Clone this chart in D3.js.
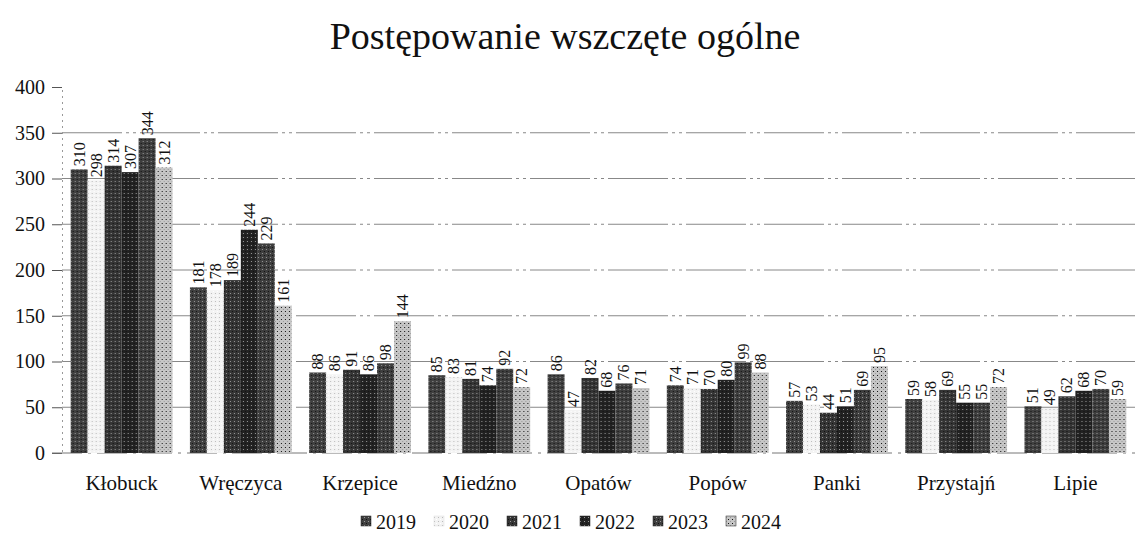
<!DOCTYPE html>
<html><head><meta charset="utf-8">
<script src="https://cdn.jsdelivr.net/npm/d3@7"></script>
<style>body{margin:0;background:#fff}svg{display:block}text{font-family:"Liberation Serif","Times New Roman",serif;fill:#111}</style>
</head><body><div id="chart"></div>
<script>
const categories = ["Kłobuck","Wręczyca","Krzepice","Miedźno","Opatów","Popów","Panki","Przystajń","Lipie"];
const years = ["2019","2020","2021","2022","2023","2024"];
const v2019 = [310,181,88,85,86,74,57,59,51];
const v2020 = [298,178,86,83,47,71,53,58,49];
const v2021 = [314,189,91,81,82,70,44,69,62];
const v2022 = [307,244,86,74,68,80,51,55,68];
const v2023 = [344,229,98,92,76,99,69,55,70];
const v2024 = [312,161,144,72,71,88,95,72,59];
const yTicks = [0,50,100,150,200,250,300,350,400];
const title = "Postępowanie wszczęte ogólne";

const series = [v2019,v2020,v2021,v2022,v2023,v2024];
const colors = ["#404040","#f3f3f3","#353535","#222222","#3e3e3e","#c6c6c6"];

const W=1135,H=542;
const svg=d3.select("#chart").append("svg").attr("width",W).attr("height",H);

const defs=svg.append("defs");
colors.forEach((c,i)=>{
  const p=defs.append("pattern").attr("id","pat"+i).attr("patternUnits","userSpaceOnUse").attr("width",4).attr("height",4);
  p.append("rect").attr("width",4).attr("height",4).attr("fill",c);
  p.append("rect").attr("x",(i%2)).attr("y",1).attr("width",1).attr("height",1).attr("fill",i===1?"#bbb":"#999");
  p.append("rect").attr("x",2+(i%2)).attr("y",3).attr("width",1).attr("height",1).attr("fill",i===1?"#fff":"#111");
});

const x0=d3.scaleBand().domain(categories).range([62,1135]).paddingInner(0.146).paddingOuter(0.073);
const x1=d3.scaleBand().domain(years).range([0,x0.bandwidth()]).padding(0);
const y=d3.scaleLinear().domain([0,400]).range([453,87]);

// gridlines
svg.append("g").selectAll("line").data(yTicks.filter(d=>d>0 && d<400)).join("line")
  .attr("x1",62).attr("x2",W).attr("y1",d=>y(d)).attr("y2",d=>y(d))
  .attr("stroke","#888").attr("stroke-width",1).attr("stroke-dasharray","60,4,3,4,3,4");

// y axis
const yAxis=d3.axisLeft(y).tickValues(yTicks).tickSize(10).tickPadding(7);
const ga=svg.append("g").attr("transform","translate(62,0)").call(yAxis);
ga.select(".domain").attr("stroke","#999").attr("stroke-dasharray","2,4");
ga.selectAll(".tick line").attr("stroke","#555");
ga.selectAll(".tick text").attr("font-size",20).attr("font-family","Liberation Serif").attr("fill","#111");

// baseline
svg.append("line").attr("x1",52).attr("x2",W).attr("y1",y(0)).attr("y2",y(0)).attr("stroke","#777").attr("stroke-dasharray","30,6,3,6");

// bars
const groups=svg.append("g").selectAll("g").data(categories).join("g")
  .attr("transform",d=>`translate(${x0(d)},0)`);
const rows=(c,ci)=>years.map((yr,si)=>({yr,si,v:series[si][ci]}));
groups.selectAll("rect").data(rows).join("rect")
  .attr("x",d=>x1(d.yr)).attr("width",x1.bandwidth())
  .attr("y",d=>y(d.v)).attr("height",d=>y(0)-y(d.v))
  .attr("fill",d=>`url(#pat${d.si})`);
groups.selectAll("text").data(rows).join("text")
  .attr("transform",d=>`translate(${x1(d.yr)+x1.bandwidth()/2+5.5},${y(d.v)-3}) rotate(-90)`)
  .attr("font-size",16).attr("text-anchor","start").text(d=>d.v);

// x labels
svg.append("g").selectAll("text").data(categories).join("text")
  .attr("x",d=>x0(d)+x0.bandwidth()/2).attr("y",490).attr("text-anchor","middle")
  .attr("font-size",21).text(d=>d);

// title
svg.append("text").attr("x",565).attr("y",49).attr("text-anchor","middle").attr("font-size",38).text(title);

// legend
const lg=svg.append("g").selectAll("g").data(years).join("g")
  .attr("transform",(d,i)=>`translate(${376+i*73},0)`);
lg.append("rect").attr("x",-15).attr("y",516).attr("width",10).attr("height",10).attr("fill",(d,i)=>`url(#pat${i})`)
  .attr("stroke",(d,i)=>i===1?"#ddd":"#222").attr("stroke-width",0.5);
lg.append("text").attr("x",0).attr("y",529).attr("font-size",20).text(d=>d);
</script></body></html>
